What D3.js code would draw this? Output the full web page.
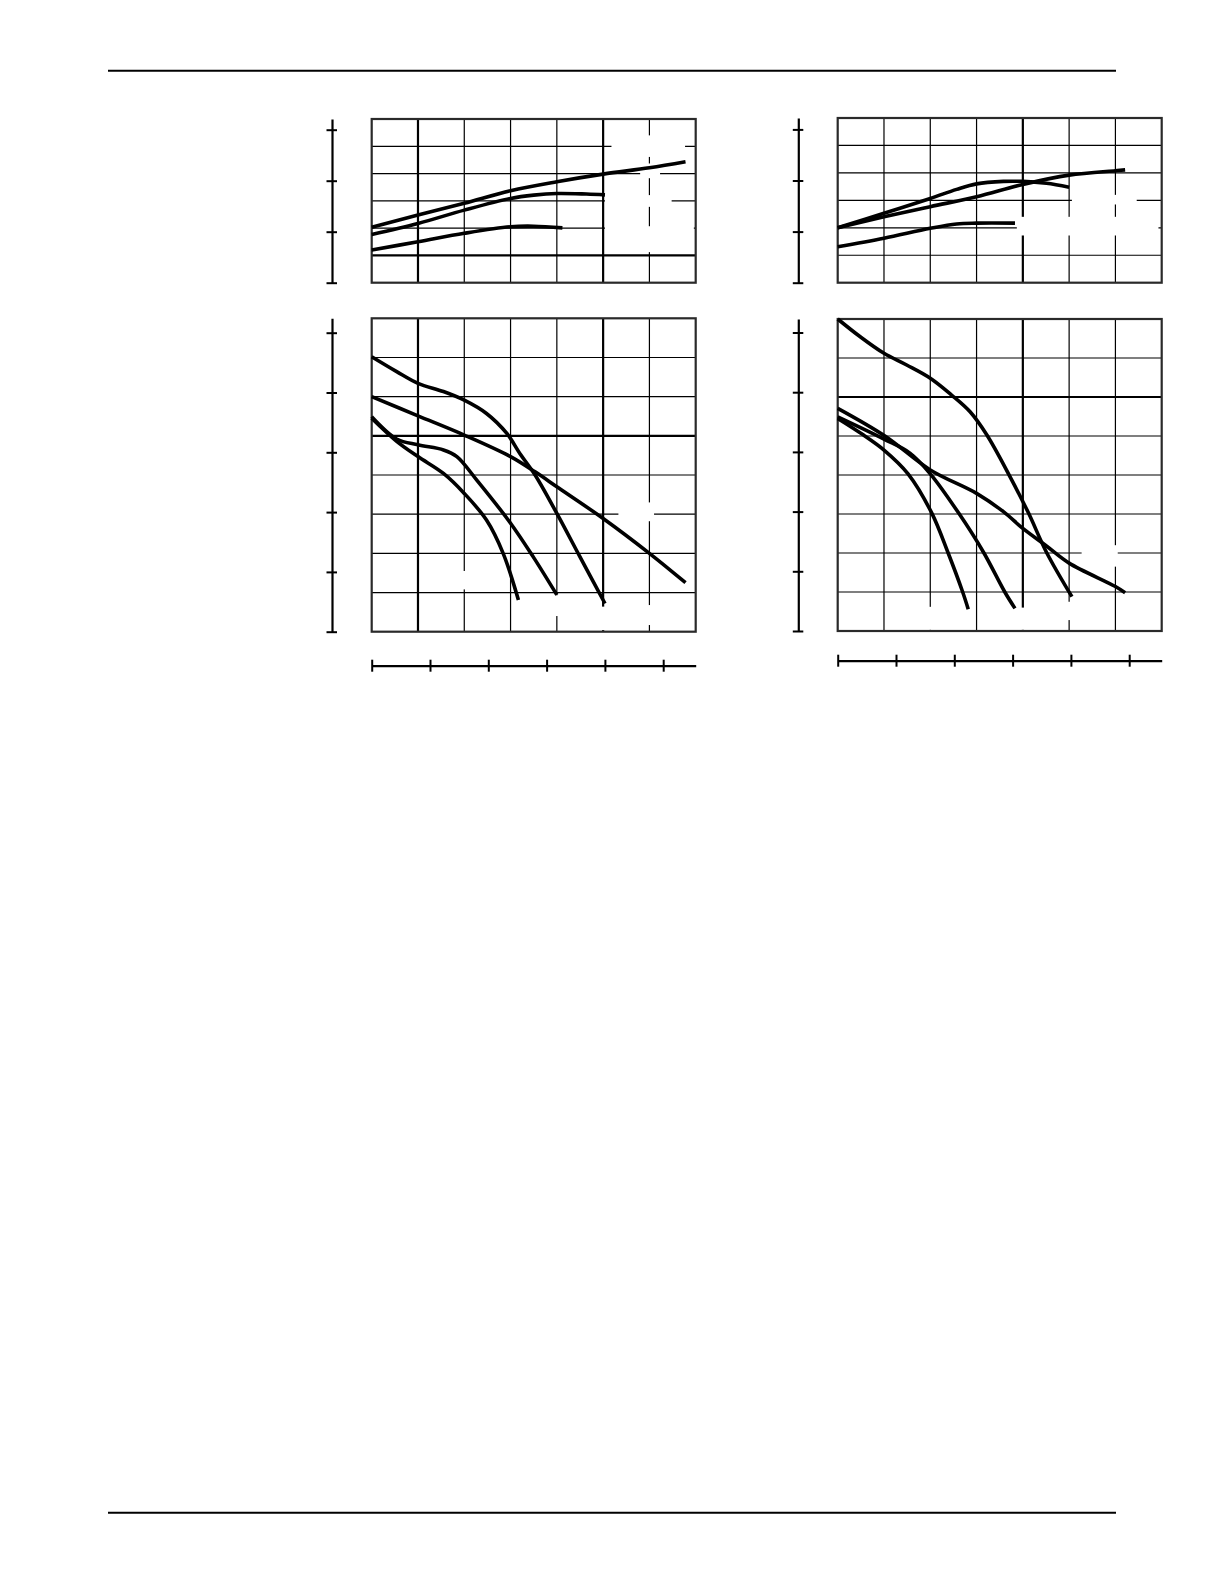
<!DOCTYPE html>
<html>
<head>
<meta charset="utf-8">
<script src="https://cdn.jsdelivr.net/npm/d3@7"></script>
<style>
    body { margin: 0; background: #fff; }
    svg { display: block; }
</style>
</head>
<body>
<div id="page"></div>
<script>
'use strict';

// all curves are read in grid units: x = grid column (0..7),
// y = grid row (0..6 upper chart, 0..8 lower chart)
var gridCols = 7;
var upperRows = 6;
var lowerRows = 8;

// secondary scales drawn as bare axes (labels were blank on the sheet)
var upperAxisTicks = [0, 1, 2, 3];
var lowerAxisTicks = [0, 1, 2, 3, 4, 5];
var flowAxisTicks = [0, 1, 2, 3, 4, 5];

// --- left sheet ---
var leftUpper = [
    [[0, 2.03], [1, 2.48], [2, 2.91], [3, 3.37], [4, 3.70], [5, 3.98], [6, 4.21], [6.78, 4.43]],
    [[0, 1.77], [1, 2.17], [2, 2.66], [3, 3.09], [3.5, 3.21], [4, 3.27], [4.64, 3.25], [5.04, 3.22]],
    [[0, 1.20], [1, 1.50], [2, 1.81], [3, 2.05], [3.5, 2.07], [4.12, 2.01]]
];
var leftLower = [
    [[0, 7.02], [0.54, 6.64], [1, 6.34], [1.55, 6.13], [2, 5.91], [2.48, 5.57], [2.92, 5.06],
        [3.2, 4.55], [3.53, 4.0], [4, 3.02], [4.5, 1.91], [5.04, 0.72]],
    [[0, 6.0], [1, 5.51], [2, 5.02], [3, 4.47], [3.53, 4.08], [4, 3.70], [5, 2.89], [6, 2.0], [6.78, 1.25]],
    [[0, 5.49], [0.54, 4.92], [1, 4.77], [1.55, 4.64], [1.84, 4.47], [2.27, 3.87], [3, 2.77],
        [3.49, 1.91], [4, 0.94]],
    [[0, 5.45], [0.54, 4.86], [1, 4.47], [1.55, 4.04], [2, 3.53], [2.48, 2.85], [2.84, 2.0], [3.17, 0.81]]
];
// blank patches in the grid where the curve labels sat [x0, x1, y0, y1]
var leftUpperGaps = [[5.04, 6.96, 1.12, 2.07], [5.04, 6.48, 2.78, 3.21], [5.18, 6.77, 4.61, 5.4], [5.8, 6.23, 3.83, 4.37]];
var leftLowerGaps = [[1.8, 2.23, 1.08, 1.55], [3.85, 4.15, 0.4, 0.93], [4.85, 5.2, 0.04, 0.64],
    [5.33, 6.1, 2.82, 3.3], [5.85, 6.15, 0.17, 0.68]];

// --- right sheet ---
var rightUpper = [
    [[0, 2.0], [1, 2.40], [2, 2.77], [3, 3.13], [4, 3.58], [5, 3.92], [6, 4.08], [6.21, 4.11]],
    [[0, 2.0], [1, 2.53], [2, 3.07], [2.57, 3.40], [3, 3.60], [3.58, 3.69], [4, 3.69], [4.51, 3.62], [5, 3.48]],
    [[0, 1.31], [1, 1.62], [2, 1.98], [2.57, 2.14], [3, 2.17], [3.83, 2.17]]
];
var rightLower = [
    [[0, 8.0], [0.48, 7.55], [1, 7.12], [1.49, 6.82], [2, 6.48], [2.46, 6.05], [2.86, 5.62],
        [3.22, 5.03], [3.69, 4.03], [4.12, 3.03], [4.51, 2.02], [5.06, 0.88]],
    [[0, 5.71], [1.02, 5.0], [2, 4.13], [3, 3.53], [3.58, 3.06], [4, 2.63], [4.51, 2.18], [5, 1.74],
        [6, 1.14], [6.21, 0.98]],
    [[0, 5.49], [1, 4.92], [1.56, 4.56], [2, 4.03], [2.61, 3.03], [3.15, 2.02], [3.61, 1.0], [3.83, 0.58]],
    [[0, 5.45], [0.55, 5.03], [1, 4.64], [1.52, 4.03], [2.03, 3.03], [2.38, 2.02], [2.7, 1.0], [2.82, 0.56]]
];
var rightUpperGaps = [[3.87, 6.93, 1.72, 2.4], [5.06, 6.46, 2.85, 3.2]];
var rightLowerGaps = [[5.27, 6.05, 1.65, 2.2], [4.9, 5.1, 0.28, 0.75], [1.9, 2.1, 0.03, 0.62], [3.9, 4.1, 0.03, 0.6]];

var sheets = [
    {
        left: 371.7, axisX: 332, flowY: 665.7,
        upperTop: 119, upperBottom: 282.7, lowerTop: 318.3, lowerBottom: 631.7,
        upperStep: 51, lowerStep: 59.8,
        upperThickX: [1, 5], upperThickY: [1], lowerThickX: [1, 5], lowerThickY: [5],
        upper: leftUpper, lower: leftLower, upperGaps: leftUpperGaps, lowerGaps: leftLowerGaps
    },
    {
        left: 837.7, axisX: 798.3, flowY: 660.7,
        upperTop: 118, upperBottom: 282.7, lowerTop: 319, lowerBottom: 631,
        upperStep: 51.1, lowerStep: 59.7,
        upperThickX: [4], upperThickY: [], lowerThickX: [4], lowerThickY: [6],
        upper: rightUpper, lower: rightLower, upperGaps: rightUpperGaps, lowerGaps: rightLowerGaps
    }
];

var boxWidth = 324;
var flowStep = 58.3;

var svg = d3.select('#page')
    .append('svg')
    .attr('width', 1224)
    .attr('height', 1584);

// page rules
[70.7, 1512.7].forEach(function(y) {
    svg.append('line')
        .attr('x1', 108).attr('x2', 1116)
        .attr('y1', y).attr('y2', y)
        .attr('stroke', '#000').attr('stroke-width', 2);
});

function drawGrid(g, xs, ys, rows, thickX, thickY, gaps) {
    d3.range(1, gridCols).forEach(function(c) {
        g.append('line')
            .attr('x1', xs(c)).attr('x2', xs(c))
            .attr('y1', ys(0)).attr('y2', ys(rows))
            .attr('stroke', '#000')
            .attr('stroke-width', thickX.indexOf(c) >= 0 ? 2.2 : 1.2);
    });
    d3.range(1, rows).forEach(function(r) {
        g.append('line')
            .attr('x1', xs(0)).attr('x2', xs(gridCols))
            .attr('y1', ys(r)).attr('y2', ys(r))
            .attr('stroke', '#000')
            .attr('stroke-width', thickY.indexOf(r) >= 0 ? 2.2 : 1.2);
    });
    gaps.forEach(function(b) {
        g.append('rect')
            .attr('x', xs(b[0])).attr('y', ys(b[3]))
            .attr('width', xs(b[1]) - xs(b[0]))
            .attr('height', ys(b[2]) - ys(b[3]))
            .attr('fill', '#fff');
    });
    g.append('rect')
        .attr('x', xs(0)).attr('y', ys(rows))
        .attr('width', xs(gridCols) - xs(0))
        .attr('height', ys(0) - ys(rows))
        .attr('fill', 'none')
        .attr('stroke', '#2a2a2a')
        .attr('stroke-width', 2.2);
}

function drawCurves(g, xs, ys, curves) {
    var line = d3.line()
        .x(function(d) { return xs(d[0]); })
        .y(function(d) { return ys(d[1]); })
        .curve(d3.curveCatmullRom.alpha(0.5));

    curves.forEach(function(c) {
        g.append('path')
            .attr('d', line(c))
            .attr('fill', 'none')
            .attr('stroke', '#000')
            .attr('stroke-width', 3.6);
    });
}

function sideAxis(g, x, top, bottom, step, ticks) {
    var s = d3.scaleLinear()
        .domain([0, (bottom - top) / step])
        .range([bottom, top]);
    var ax = g.append('g')
        .attr('transform', 'translate(' + x + ',0)')
        .call(d3.axisLeft(s).tickValues(ticks).tickFormat('').tickSizeInner(5).tickSizeOuter(0));
    ax.select('.domain').attr('stroke-width', 2.2);
    ax.selectAll('.tick line').attr('x1', 5).attr('x2', -5.5).attr('stroke-width', 2);
}

function flowAxis(g, left, y) {
    var s = d3.scaleLinear()
        .domain([0, boxWidth / flowStep])
        .range([left, left + boxWidth]);
    var ax = g.append('g')
        .attr('transform', 'translate(0,' + y + ')')
        .call(d3.axisBottom(s).tickValues(flowAxisTicks).tickFormat('').tickSizeInner(6).tickSizeOuter(0));
    ax.select('.domain').attr('stroke-width', 2.2);
    ax.selectAll('.tick line').attr('y1', -6).attr('y2', 6).attr('stroke-width', 2);
}

sheets.forEach(function(sh) {
    var g = svg.append('g');
    var xs = d3.scaleLinear().domain([0, gridCols]).range([sh.left, sh.left + boxWidth]);
    var ysU = d3.scaleLinear().domain([0, upperRows]).range([sh.upperBottom, sh.upperTop]);
    var ysL = d3.scaleLinear().domain([0, lowerRows]).range([sh.lowerBottom, sh.lowerTop]);

    drawGrid(g, xs, ysU, upperRows, sh.upperThickX, sh.upperThickY, sh.upperGaps);
    drawGrid(g, xs, ysL, lowerRows, sh.lowerThickX, sh.lowerThickY, sh.lowerGaps);

    drawCurves(g, xs, ysU, sh.upper);
    drawCurves(g, xs, ysL, sh.lower);

    sideAxis(g, sh.axisX, sh.upperTop, sh.upperBottom, sh.upperStep, upperAxisTicks);
    sideAxis(g, sh.axisX, sh.lowerTop, sh.lowerBottom, sh.lowerStep, lowerAxisTicks);
    flowAxis(g, sh.left, sh.flowY);
});
</script>
</body>
</html>
